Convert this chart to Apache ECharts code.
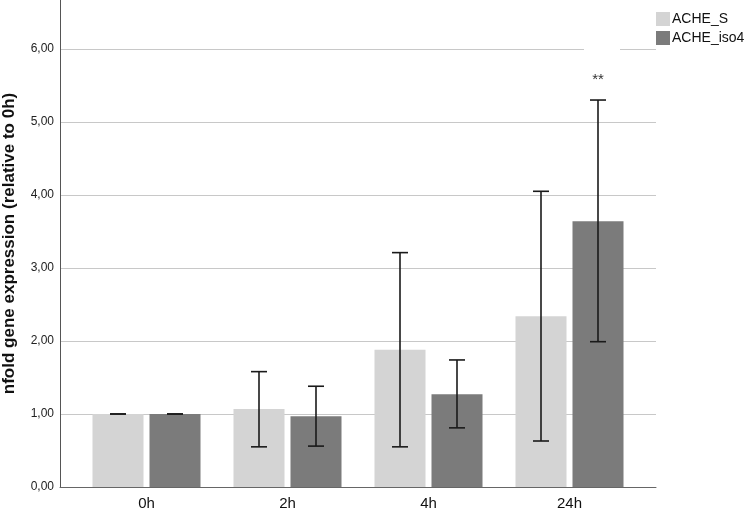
<!DOCTYPE html>
<html>
<head>
<meta charset="utf-8">
<script src="https://cdn.jsdelivr.net/npm/echarts@6/dist/echarts.min.js"></script>
<style>
html,body{margin:0;padding:0;background:#fff;}
#c{width:745px;height:511px;}
</style>
</head>
<body>
<div id="c"></div>
<script>
// ---- data ----
var categories = ['0h', '2h', '4h', '24h'];
var seriesNames = ['ACHE_S', 'ACHE_iso4'];
var valuesS = [1.00, 1.07, 1.88, 2.34];
var valuesIso4 = [1.00, 0.97, 1.27, 3.64];
var lowS = [1.00, 0.55, 0.55, 0.63];
var highS = [1.00, 1.58, 3.21, 4.05];
var lowIso4 = [1.00, 0.56, 0.81, 1.99];
var highIso4 = [1.00, 1.38, 1.74, 5.30];
var annotIso4 = ['', '', '', '**'];
var yTicks = [0, 1, 2, 3, 4, 5, 6];
var yAxisTitle = 'nfold gene expression (relative to 0h)';

// ---- layout / style ----
var FONT = '"Liberation Sans", Arial, sans-serif';
var Y_MAX = 6.67;
var BAR_W = 51;
var BAR_GAP_PX = 6;
var HALF = (BAR_W + BAR_GAP_PX) / 2;

function fmt(v) { return v.toFixed(2).replace('.', ','); }

function errData(low, high, annot) {
  return categories.map(function (c, i) {
    return [i, low[i], high[i], annot ? annot[i] : ''];
  });
}

function errRender(offset) {
  return function (params, api) {
    var i = api.value(0);
    var pLo = api.coord([i, api.value(1)]);
    var pHi = api.coord([i, api.value(2)]);
    var x = pLo[0] + offset;
    var cap = 8;
    var style = { stroke: '#1a1a1a', lineWidth: 1.6 };
    var children = [
      { type: 'line', shape: { x1: x, y1: pLo[1], x2: x, y2: pHi[1] }, style: style },
      { type: 'line', shape: { x1: x - cap, y1: pLo[1], x2: x + cap, y2: pLo[1] }, style: style },
      { type: 'line', shape: { x1: x - cap, y1: pHi[1], x2: x + cap, y2: pHi[1] }, style: style }
    ];
    var t = api.value(3);
    if (t) {
      children.push({
        type: 'text',
        style: { text: t, x: x, y: pHi[1] - 20, align: 'center', verticalAlign: 'middle',
                 font: '15px ' + FONT, fill: '#333' }
      });
    }
    return { type: 'group', children: children };
  };
}

var chart = echarts.init(document.getElementById('c'), null, { renderer: 'canvas' });
chart.setOption({
  backgroundColor: '#ffffff',
  animation: false,
  legend: {
    data: seriesNames,
    orient: 'vertical',
    left: 656,
    top: 12,
    padding: 0,
    icon: 'rect',
    itemWidth: 14,
    itemHeight: 14,
    itemGap: 5,
    textStyle: { fontFamily: FONT, fontSize: 14, color: '#111', padding: [0, 0, 0, -3] }
  },
  grid: [
    { left: 60, right: 89, top: 0, bottom: 24, outerBoundsMode: 'none', containLabel: false },
    { left: 76, right: 105, top: 0, bottom: 24, outerBoundsMode: 'none', containLabel: false }
  ],
  xAxis: [
    { gridIndex: 0, type: 'value', min: 0, max: 1, show: true,
      axisLine: { show: true, onZero: false, lineStyle: { color: '#666', width: 1 } },
      axisTick: { show: false }, axisLabel: { show: false }, splitLine: { show: false } },
    { gridIndex: 1, type: 'category', data: categories,
      axisLine: { show: false }, axisTick: { show: false },
      axisLabel: { fontFamily: FONT, fontSize: 15, color: '#111', margin: 9 } }
  ],
  yAxis: [
    { gridIndex: 0, type: 'value', min: 0, max: Y_MAX, interval: 1,
      name: yAxisTitle, nameLocation: 'middle', nameGap: 42, nameMoveOverlap: false,
      nameTextStyle: { fontFamily: FONT, fontSize: 17, fontWeight: 'bold', color: '#111' },
      axisLine: { show: true, lineStyle: { color: '#555', width: 1 } },
      axisTick: { show: false },
      axisLabel: { fontFamily: FONT, fontSize: 12, color: '#222', margin: 6, showMaxLabel: false,
        padding: [6, 0, 0, 0],
        formatter: function (v) { return yTicks.indexOf(v) >= 0 ? fmt(v) : ''; } },
      splitLine: { show: true, showMinLine: false, showMaxLine: false, lineStyle: { color: '#c8c8c8', width: 1 } } },
    { gridIndex: 1, type: 'value', min: 0, max: Y_MAX, interval: 1, show: false,
      splitLine: { show: false } }
  ],
  series: [
    { name: seriesNames[0], type: 'bar', xAxisIndex: 1, yAxisIndex: 1, data: valuesS,
      barWidth: BAR_W, barGap: (BAR_GAP_PX / BAR_W * 100) + '%',
      itemStyle: { color: '#d4d4d4' }, z: 3 },
    { name: seriesNames[1], type: 'bar', xAxisIndex: 1, yAxisIndex: 1, data: valuesIso4,
      barWidth: BAR_W, barGap: (BAR_GAP_PX / BAR_W * 100) + '%',
      itemStyle: { color: '#7b7b7b' }, z: 3 },
    { type: 'custom', xAxisIndex: 1, yAxisIndex: 1, data: errData(lowS, highS),
      renderItem: errRender(-HALF), z: 5, silent: true },
    { type: 'custom', xAxisIndex: 1, yAxisIndex: 1, data: errData(lowIso4, highIso4, annotIso4),
      renderItem: errRender(HALF), z: 5, silent: true }
  ],
  graphic: [
    { type: 'rect', shape: { x: 584, y: 44, width: 36, height: 10 }, style: { fill: '#fff' }, z: 10 }
  ]
});
</script>
</body>
</html>
